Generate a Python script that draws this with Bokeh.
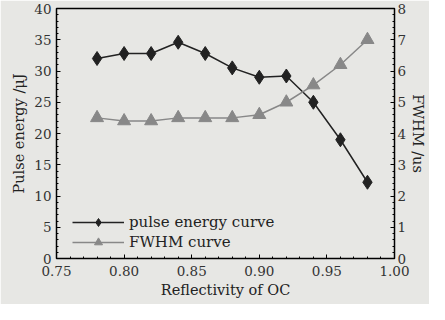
from bokeh.plotting import figure
from bokeh.models import Range1d, LinearAxis, Legend, LegendItem, FixedTicker, CustomJSTickFormatter
from bokeh.embed import file_html
from bokeh.resources import INLINE

reflectivity = [0.78, 0.80, 0.82, 0.84, 0.86, 0.88, 0.90, 0.92, 0.94, 0.96, 0.98]
pulse_energy = [32.0, 32.8, 32.8, 34.6, 32.8, 30.5, 29.0, 29.2, 25.0, 19.0, 12.2]
fwhm = [4.5, 4.4, 4.4, 4.5, 4.5, 4.5, 4.6, 5.0, 5.55, 6.2, 7.0]
x_ticks = [0.75, 0.80, 0.85, 0.90, 0.95, 1.00]
left_ticks = [0, 5, 10, 15, 20, 25, 30, 35, 40]
right_ticks = [0, 1, 2, 3, 4, 5, 6, 7, 8]

FONT = "DejaVu Serif"
BG = "#e7e7e4"

p = figure(width=429, height=304, output_backend="svg", toolbar_location=None,
           x_range=Range1d(0.75, 1.00), y_range=Range1d(0, 40),
           background_fill_color=BG, border_fill_color=BG,
           min_border_left=56, min_border_right=34, min_border_top=8, min_border_bottom=46)
p.extra_y_ranges = {"fw": Range1d(0, 8)}
p.grid.visible = False
p.outline_line_color = "black"
p.outline_line_width = 1.5

p.xaxis.ticker = FixedTicker(ticks=x_ticks, minor_ticks=[0.75 + 0.01 * i for i in range(26)])
p.xaxis.formatter = CustomJSTickFormatter(code="return tick.toFixed(2);")
p.xaxis.axis_label = "Reflectivity of OC"
p.yaxis.ticker = FixedTicker(ticks=left_ticks, minor_ticks=list(range(0, 41, 1)))
p.yaxis.axis_label = "Pulse energy /μJ"

right = LinearAxis(y_range_name="fw", axis_label="FWHM /us",
                   ticker=FixedTicker(ticks=right_ticks, minor_ticks=[i * 0.2 for i in range(41)]))
p.add_layout(right, "right")

for ax in p.axis:
    ax.axis_line_color = "black"
    ax.major_tick_in = 4
    ax.major_tick_out = 0
    ax.minor_tick_in = 2
    ax.minor_tick_out = 0
    ax.major_label_text_font = FONT
    ax.major_label_text_font_size = "13.5px"
    ax.major_label_text_color = "#333333"
    ax.axis_label_text_font = FONT
    ax.axis_label_text_font_size = "14.5px"
    ax.axis_label_text_font_style = "normal"
    ax.axis_label_text_color = "#222222"
    ax.axis_label_standoff = 4
    ax.major_label_standoff = 5

p.xaxis.major_label_standoff = 7
p.xaxis.axis_label_standoff = 3
right.major_label_standoff = 3
right.axis_label_standoff = 1

l1 = p.line(reflectivity, pulse_energy, line_color="#222222", line_width=1.5)
m1 = p.scatter(reflectivity, pulse_energy, marker="diamond", size=14, fill_color="#222222", line_color="#222222")
l2 = p.line(reflectivity, fwhm, y_range_name="fw", line_color="#888888", line_width=1.5)
m2 = p.scatter(reflectivity, fwhm, y_range_name="fw", marker="triangle", size=13,
               fill_color="#888888", line_color="#888888")

legend = Legend(items=[LegendItem(label="pulse energy curve", renderers=[l1, m1]),
                       LegendItem(label="FWHM curve", renderers=[l2, m2])],
                location=(14, 4), background_fill_alpha=0, border_line_alpha=0,
                label_text_font=FONT, label_text_font_size="15px", label_text_color="#222222",
                glyph_width=52, spacing=0, padding=2, label_height=20, glyph_height=20)
p.add_layout(legend, "center")

open("out.html", "w").write(file_html(p, INLINE))
